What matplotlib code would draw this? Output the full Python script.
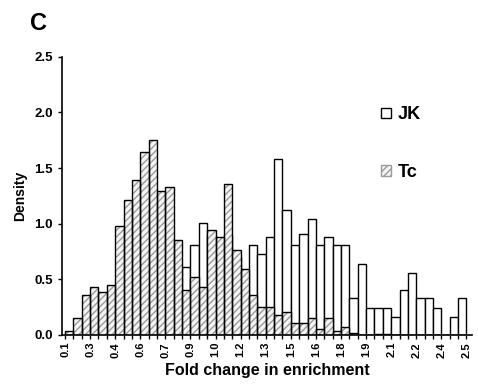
import numpy as np
import matplotlib.pyplot as plt
from matplotlib.patches import Patch

plt.rcParams['font.family'] = ['Liberation Sans', 'DejaVu Sans']
plt.rcParams['font.weight'] = 'bold'

# bins of width 0.05 from 0.10 to 2.50
bin_width = 0.05
bin_left = np.round(np.arange(0.10, 2.50, bin_width), 2)

jk = [0, 0, 0, 0, 0, 0, 0.05, 0.10, 0.15, 0.20, 0.25, 0.30,
      0.30, 0.50, 0.61, 0.81, 1.01, 0.90, 0.80, 0.90, 0.70, 0.55,
      0.81, 0.73, 0.88, 1.58, 1.12, 0.81, 0.91, 1.04, 0.81, 0.88,
      0.81, 0.81, 0.33, 0.64, 0.245, 0.245, 0.245, 0.16, 0.40, 0.56,
      0.33, 0.33, 0.245, 0, 0.16, 0.33]

tc = [0.04, 0.15, 0.355, 0.43, 0.385, 0.45, 0.98, 1.21, 1.39, 1.64, 1.75, 1.29,
      1.33, 0.85, 0.40, 0.52, 0.43, 0.94, 0.88, 1.36, 0.76, 0.59,
      0.355, 0.25, 0.25, 0.18, 0.21, 0.11, 0.11, 0.15, 0.05, 0.15,
      0.035, 0.07, 0.015, 0, 0, 0.005, 0.005, 0, 0, 0,
      0, 0, 0, 0, 0, 0]

tick_labels = ['0.1', '0.3', '0.4', '0.6', '0.7', '0.9', '1.0', '1.2', '1.3',
               '1.5', '1.6', '1.8', '1.9', '2.1', '2.2', '2.4', '2.5']

hatch_col = '#9a9a9a'

fig = plt.figure(figsize=(4.78, 3.85), dpi=100)
ax = fig.add_axes([0.1297, 0.1299, 0.857, 0.7228])

ax.bar(bin_left, jk, width=bin_width, align='edge', color='white',
       edgecolor='black', linewidth=1.0)
# hatch layer (gray lines) then black outline on top
ax.bar(bin_left, tc, width=bin_width, align='edge', color='#f4f4f4',
       edgecolor=hatch_col, hatch='/////', linewidth=0)
ax.bar(bin_left, tc, width=bin_width, align='edge', fill=False,
       edgecolor='black', linewidth=1.0)

edges = np.round(np.arange(0.10, 2.5001, bin_width), 2)
labels = [''] * len(edges)
for i, lab in enumerate(tick_labels):
    labels[3 * i] = lab
ax.set_xticks(edges)
ax.set_xticklabels(labels, rotation=90, fontsize=8, fontweight='bold')
ax.tick_params(axis='x', length=3, width=1, pad=2)
ax.set_xlim(0.082, 2.531)

ax.set_ylim(0, 2.5)
ax.set_yticks(np.arange(0, 2.51, 0.5))
ax.set_yticklabels(['%.1f' % v for v in np.arange(0, 2.51, 0.5)],
                   fontsize=9.5, fontweight='bold')
ax.tick_params(axis='y', length=3, width=1)

for s in ['top', 'right']:
    ax.spines[s].set_visible(False)
for s in ['left', 'bottom']:
    ax.spines[s].set_linewidth(1.2)

ax.set_xlabel('Fold change in enrichment', fontsize=11.5, fontweight='bold', labelpad=4)
ax.set_ylabel('Density', fontsize=10, fontweight='bold', labelpad=5)

handles = [Patch(facecolor='white', edgecolor='black', label='JK'),
           Patch(facecolor='#f4f4f4', edgecolor=hatch_col, hatch='/////', label='Tc')]
leg = ax.legend(handles=handles, loc='upper left', bbox_to_anchor=(0.74, 0.88),
                frameon=False, fontsize=13, handlelength=0.55, handleheight=0.55,
                handletextpad=0.35, labelspacing=2.25)
for t in leg.get_texts():
    t.set_fontweight('bold')

fig.text(0.063, 0.94, 'C', fontsize=17, fontweight='bold', va='center')

fig.savefig('out.png', dpi=100)
